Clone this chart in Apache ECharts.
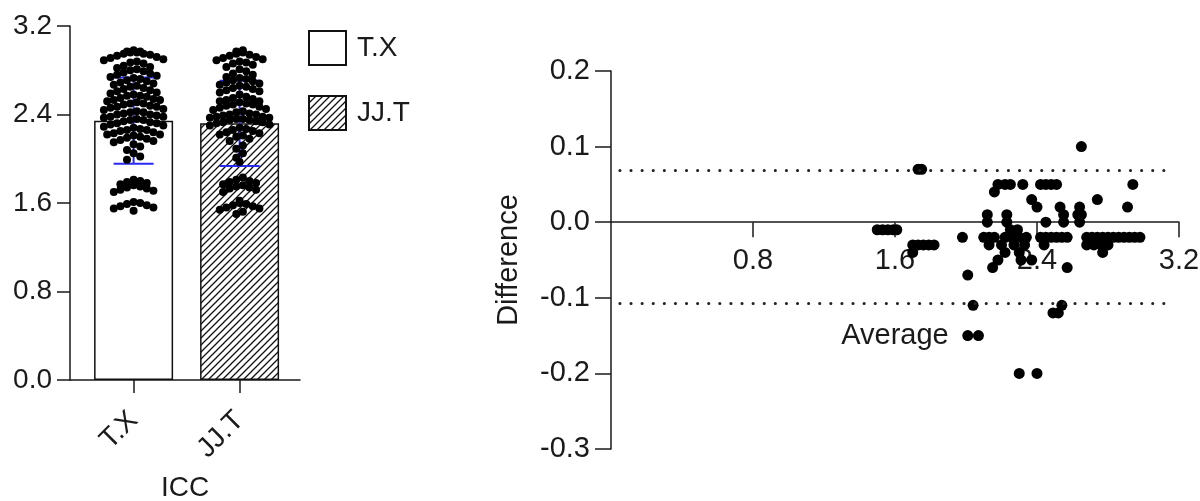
<!DOCTYPE html>
<html><head><meta charset="utf-8">
<script src="https://cdn.jsdelivr.net/npm/echarts@6/dist/echarts.min.js"></script>
<style>html,body{margin:0;padding:0;background:#fff}#c{width:1200px;height:501px}</style>
</head><body><div id="c"></div>
<script>
// ---------- data ----------
const categories = ['T.X', 'JJ.T'];
const barMeans = [2.344, 2.32];
const barSD = [0.39, 0.385];
const leftYTicks = { min: 0, max: 3.2, interval: 0.8 };
const txValues = [2.98,2.97,2.97,2.96,2.96,2.95,2.95,2.94,2.93,2.92,2.91,2.90,2.89,2.88,2.87,2.86,
 2.84,2.83,2.82,2.81,2.80,2.79,2.78,2.77,2.76,2.75,
 2.74,2.73,2.72,2.71,2.70,2.69,2.68,2.67,2.66,2.65,2.64,2.63,2.62,2.61,2.60,
 2.59,2.58,2.57,2.57,2.56,2.55,2.54,2.53,2.53,2.52,2.51,2.50,2.50,2.49,2.48,2.47,2.47,2.46,2.45,
 2.44,2.43,2.42,2.42,2.41,2.40,2.40,2.39,2.38,2.38,2.37,2.36,2.35,2.35,2.34,2.33,2.32,2.32,2.31,2.30,
 2.29,2.28,2.27,2.26,2.26,2.25,2.24,2.23,2.22,2.22,2.21,2.20,2.19,2.18,2.17,2.16,2.15,
 2.13,2.11,2.08,2.05,2.02,1.99,
 1.81,1.80,1.79,1.78,1.77,1.76,1.75,1.74,1.73,1.72,1.71,1.70,
 1.61,1.60,1.59,1.58,1.57,1.56,1.55,1.53];
const jjtValues = [2.98,2.97,2.96,2.95,2.94,2.93,2.92,2.91,2.90,2.89,2.88,2.87,2.86,2.85,
 2.83,2.81,2.79,2.77,2.76,
 2.74,2.73,2.72,2.71,2.70,2.69,2.68,2.67,2.66,2.65,2.64,2.63,2.62,2.61,2.60,
 2.58,2.56,2.55,2.54,2.53,2.52,2.52,2.51,2.50,2.49,2.49,2.48,2.47,2.46,2.45,
 2.44,2.43,2.42,2.41,2.40,2.40,2.39,2.38,2.38,2.37,2.37,2.36,2.36,2.35,2.35,2.34,2.33,2.33,2.32,2.31,2.30,
 2.28,2.27,2.26,2.25,2.24,2.23,2.22,2.21,2.20,2.18,2.16,
 2.12,2.09,2.05,2.01,1.97,
 1.83,1.81,1.80,1.79,1.78,1.77,1.76,1.75,1.74,1.73,1.72,1.70,
 1.62,1.60,1.59,1.58,1.57,1.56,1.55,1.54,1.52,1.50];
const baAverage = [2.65, 1.73, 1.75, 2.18, 2.22, 2.25, 2.32, 2.42, 2.45, 2.48, 2.51, 2.94, 2.16, 2.74, 2.37, 2.91, 2.40, 2.53, 2.64,
 2.12, 2.23, 2.55, 2.63, 2.65, 2.12, 2.23, 2.45, 2.55, 2.64,
 1.50, 1.53, 1.56, 1.59, 1.61, 2.25, 2.29,
 1.98, 2.10, 2.13, 2.16, 2.22, 2.26, 2.30, 2.34, 2.42, 2.45, 2.48, 2.51, 2.54, 2.57, 2.68, 2.71, 2.74, 2.77, 2.80, 2.83, 2.86, 2.89, 2.92, 2.95, 2.98,
 1.70, 1.73, 1.76, 1.79, 1.82, 2.13, 2.20, 2.27, 2.33, 2.44, 2.68, 2.72, 2.76, 2.80,
 1.70, 2.77, 2.22, 2.30, 2.18, 2.31, 2.37, 2.15, 2.57, 2.01, 2.04, 2.54, 2.49, 2.52, 2.01, 2.07, 2.30, 2.40];
const baDifference = [0.10, 0.07, 0.07, 0.05, 0.05, 0.05, 0.05, 0.05, 0.05, 0.05, 0.05, 0.05, 0.04, 0.03, 0.03, 0.02, 0.02, 0.02, 0.02,
 0.01, 0.01, 0.01, 0.01, 0.01, 0.00, 0.00, 0.00, 0.00, 0.00,
 -0.01, -0.01, -0.01, -0.01, -0.01, -0.01, -0.01,
 -0.02, -0.02, -0.02, -0.02, -0.02, -0.02, -0.02, -0.02, -0.02, -0.02, -0.02, -0.02, -0.02, -0.02, -0.02, -0.02, -0.02, -0.02, -0.02, -0.02, -0.02, -0.02, -0.02, -0.02, -0.02,
 -0.03, -0.03, -0.03, -0.03, -0.03, -0.03, -0.03, -0.03, -0.03, -0.03, -0.03, -0.03, -0.03, -0.03,
 -0.04, -0.04, -0.04, -0.04, -0.05, -0.05, -0.05, -0.06, -0.06, -0.07, -0.11, -0.11, -0.12, -0.12, -0.15, -0.15, -0.20, -0.20];
const loaUpper = 0.069;
const loaLower = -0.107;
const loaRange = [0.05, 3.14];

// ---------- chart ----------
const FONT = '"Liberation Sans", Arial, Helvetica, sans-serif';
const INK = '#1a1a1a';
const chart = echarts.init(document.getElementById('c'), null, { renderer: 'canvas' });

function hatch() {
  const s = 7, c = document.createElement('canvas');
  c.width = s; c.height = s;
  const g = c.getContext('2d');
  g.fillStyle = '#fff'; g.fillRect(0, 0, s, s);
  g.strokeStyle = '#111'; g.lineWidth = 1.3; g.beginPath();
  g.moveTo(-1, s + 1); g.lineTo(s + 1, -1);
  g.moveTo(-1, 1); g.lineTo(1, -1);
  g.moveTo(s - 1, s + 1); g.lineTo(s + 1, s - 1);
  g.stroke();
  return c;
}
const hatchPattern = { image: hatch(), repeat: 'repeat' };
const axisLineStyle = { color: INK, width: 1.5 };
const fmt1 = v => Number(v).toFixed(1);

const option = {
  animation: false,
  backgroundColor: '#fff',
  textStyle: { fontFamily: FONT, color: INK },
  legend: {
    orient: 'vertical', left: 303, top: 25, itemWidth: 37, itemHeight: 34, itemGap: 29,
    icon: 'rect', data: categories,
    textStyle: { fontSize: 28, color: INK, fontFamily: FONT, padding: [0, 0, 0, 6] }
  },
  grid: [
    { left: 70, top: 26, width: 230, height: 354, outerBoundsMode: 'none', containLabel: false },
    { left: 611, top: 71, width: 568, height: 378, outerBoundsMode: 'none', containLabel: false }
  ],
  xAxis: [
    {
      type: 'value', gridIndex: 0, min: -0.6, max: 1.57,
      axisLine: { show: true, onZero: false, lineStyle: axisLineStyle },
      axisTick: { show: true, customValues: [0, 1], length: 13, lineStyle: axisLineStyle },
      axisLabel: { customValues: [0, 1], formatter: v => categories[Math.round(v)], rotate: 45, margin: 36,
        fontSize: 28, color: INK, fontFamily: FONT },
      splitLine: { show: false },
      name: 'ICC', nameLocation: 'middle', nameGap: 94,
      nameTextStyle: { fontSize: 28, color: INK, fontFamily: FONT }
    },
    {
      type: 'value', gridIndex: 1, min: 0, max: 3.2, interval: 0.8, position: 'bottom', offset: 0,
      axisLine: { show: true, onZero: false, lineStyle: axisLineStyle },
      axisTick: { show: true, length: 15, lineStyle: axisLineStyle },
      axisLabel: { formatter: fmt1, showMinLabel: false, margin: 24, fontSize: 29, color: INK, fontFamily: FONT },
      splitLine: { show: false },
      name: 'Average', nameLocation: 'middle', nameGap: 99,
      nameTextStyle: { fontSize: 29, color: INK, fontFamily: FONT }
    }
  ],
  yAxis: [
    {
      type: 'value', gridIndex: 0, min: leftYTicks.min, max: leftYTicks.max, interval: leftYTicks.interval,
      axisLine: { show: true, onZero: false, lineStyle: axisLineStyle },
      axisTick: { show: true, length: 13, lineStyle: axisLineStyle },
      axisLabel: { formatter: fmt1, margin: 18, fontSize: 28, color: INK, fontFamily: FONT },
      splitLine: { show: false }
    },
    {
      type: 'value', gridIndex: 1, min: -0.3, max: 0.2, interval: 0.1,
      axisLine: { show: true, onZero: false, lineStyle: axisLineStyle },
      axisTick: { show: true, length: 16, lineStyle: axisLineStyle },
      axisLabel: { formatter: fmt1, margin: 21, fontSize: 29, color: INK, fontFamily: FONT },
      splitLine: { show: false },
      name: 'Difference', nameLocation: 'middle', nameGap: 88, nameRotate: 90,
      nameTextStyle: { fontSize: 29, color: INK, fontFamily: FONT }
    }
  ],
  series: [
    {
      name: categories[0], type: 'bar', xAxisIndex: 0, yAxisIndex: 0, barWidth: 79,
      data: [[0, barMeans[0]]], z: 2,
      itemStyle: { color: '#fff', borderColor: '#111', borderWidth: 1.5 }
    },
    {
      name: categories[1], type: 'bar', xAxisIndex: 0, yAxisIndex: 0, barWidth: 79, barGap: '-100%',
      data: [[1, barMeans[1]]], z: 2,
      itemStyle: { color: hatchPattern, borderColor: '#111', borderWidth: 1.5 }
    },
    {
      name: 'err', type: 'custom', xAxisIndex: 0, yAxisIndex: 0, z: 3, silent: true,
      data: barMeans.map((m, i) => [i, m, barSD[i]]),
      renderItem: function (params, api) {
        const x = api.value(0), m = api.value(1), s = api.value(2);
        const top = api.coord([x, m + s]), bot = api.coord([x, m - s]);
        const st = { stroke: '#2a2af5', lineWidth: 2 };
        return { type: 'group', children: [
          { type: 'line', shape: { x1: top[0], y1: top[1], x2: bot[0], y2: bot[1] }, style: st },
          { type: 'line', shape: { x1: top[0] - 20, y1: top[1], x2: top[0] + 20, y2: top[1] }, style: st },
          { type: 'line', shape: { x1: bot[0] - 20, y1: bot[1], x2: bot[0] + 20, y2: bot[1] }, style: st }
        ]};
      }
    },
    { name: 'dotsTX', type: 'scatter', xAxisIndex: 0, yAxisIndex: 0, symbolSize: 8, z: 4,
      itemStyle: { color: '#000', opacity: 1 }, data: [] },
    { name: 'dotsJJT', type: 'scatter', xAxisIndex: 0, yAxisIndex: 0, symbolSize: 8, z: 4,
      itemStyle: { color: '#000', opacity: 1 }, data: [] },
    {
      name: 'BA', type: 'scatter', xAxisIndex: 1, yAxisIndex: 1, symbolSize: 11, z: 4,
      itemStyle: { color: '#000', opacity: 1 },
      data: baAverage.map((a, i) => [a, baDifference[i]]),
      markLine: {
        silent: true, symbol: 'none', label: { show: false },
        lineStyle: { color: '#222', width: 3, type: [0.1, 11], cap: 'round' },
        data: [
          [{ coord: [loaRange[0], loaUpper] }, { coord: [loaRange[1], loaUpper] }],
          [{ coord: [loaRange[0], loaLower] }, { coord: [loaRange[1], loaLower] }]
        ]
      }
    }
  ]
};
chart.setOption(option);

// move the Bland-Altman x axis (line, ticks, labels, name) up to difference = 0
const zeroPx = chart.convertToPixel({ xAxisIndex: 1, yAxisIndex: 1 }, [0, 0])[1];
const bottomPx = chart.convertToPixel({ xAxisIndex: 1, yAxisIndex: 1 }, [0, -0.3])[1];

// Prism-style scatter dot plot: bin values into pixel rows, spread each row horizontally
const p0 = chart.convertToPixel({ xAxisIndex: 0, yAxisIndex: 0 }, [0, 0]);
const p1 = chart.convertToPixel({ xAxisIndex: 0, yAxisIndex: 0 }, [1, 1]);
const pxX = p1[0] - p0[0], pxY = p0[1] - p1[1];
function swarm(vals, cx) {
  const rowH = 8.3, step = 6.6, rows = {}, out = [];
  vals.forEach(v => { const r = Math.round(v * pxY / rowH); (rows[r] = rows[r] || []).push(v); });
  Object.keys(rows).forEach(r => {
    const list = rows[r].slice().sort((a, b) => b - a), n = list.length;
    const slots = [];
    for (let i = 0; i < n; i++) slots.push(i - (n - 1) / 2);
    slots.sort((a, b) => Math.abs(a) - Math.abs(b) || b - a);
    list.forEach((v, i) => out.push([cx + slots[i] * step / pxX, v]));
  });
  return out;
}
chart.setOption({
  xAxis: [{}, { offset: zeroPx - bottomPx }],
  series: [{}, {}, {}, { data: swarm(txValues, 0) }, { data: swarm(jjtValues, 1) }, {}]
});
</script></body></html>
